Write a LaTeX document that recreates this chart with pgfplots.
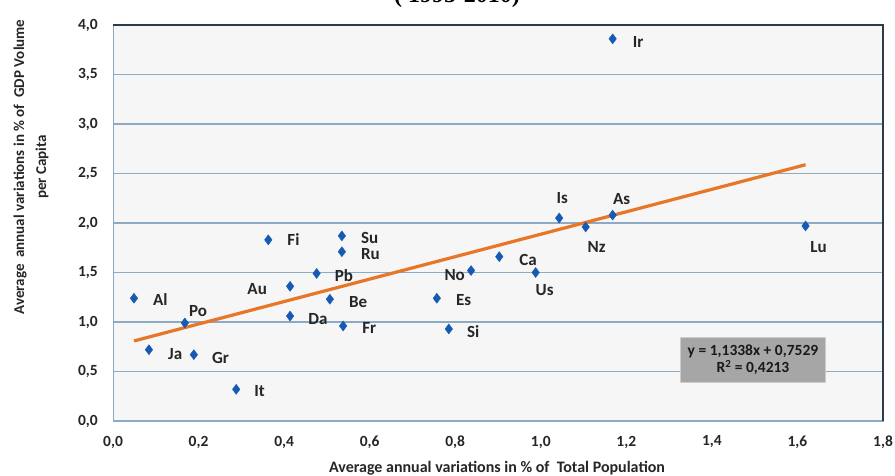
\documentclass[border=0pt]{standalone}
\usepackage{pgfplots}
\pgfplotsset{compat=1.18}
\usepackage{fontspec}
\setmainfont{Carlito}
\newfontfamily\titlefont{Liberation Serif}
\definecolor{mblue}{RGB}{22,90,180}
\definecolor{torange}{RGB}{232,118,40}
\definecolor{gridc}{RGB}{140,170,195}
\definecolor{framed}{RGB}{45,60,75}
\definecolor{bgc}{RGB}{246,246,246}
\definecolor{boxc}{RGB}{166,166,166}
\begin{document}
\begin{tikzpicture}[x=1pt,y=1pt]
\begin{axis}[
  at={(113pt,54pt)}, anchor=south west,
  width=770pt, height=396pt, scale only axis,
  xmin=0, xmax=1.8, ymin=0, ymax=4,
  xtick={0,0.2,0.4,0.6,0.8,1.0,1.2,1.4,1.6,1.8},
  ytick={0,0.5,1.0,1.5,2.0,2.5,3.0,3.5,4.0},
  major tick length=0pt,
  ymajorgrids,
  grid style={gridc, line width=1.2pt},
  axis line style={gridc, line width=1pt},
  axis background/.style={fill=bgc},
  /pgf/number format/.cd, fixed, fixed zerofill, precision=1, use comma, assume math mode=true,
  /pgfplots/.cd,
  tick label style={font=\bfseries\fontsize{15.5}{15.5}\selectfont, text=black!85, inner sep=0pt},
  xticklabel style={anchor=center, yshift=-21pt},
  yticklabel style={anchor=east, xshift=-15pt},
  clip=false,
]
\draw[framed, line width=2.2pt] (rel axis cs:0,1) -- (rel axis cs:1,1) -- (rel axis cs:1,0);
\addplot[only marks, mark=diamond*, mark size=5pt, color=mblue] coordinates {
  (1.168,3.86) (1.043,2.05) (1.105,1.96) (1.168,2.08) (1.619,1.97)
  (0.363,1.83) (0.535,1.87) (0.535,1.71) (0.476,1.49) (0.414,1.36)
  (0.049,1.24) (0.507,1.23) (0.168,0.99) (0.414,1.06) (0.538,0.96)
  (0.084,0.72) (0.189,0.67) (0.288,0.32) (0.837,1.52) (0.903,1.66)
  (0.988,1.50) (0.757,1.24) (0.785,0.93)
};
\addplot[torange, line width=3.2pt] coordinates {(0.049,0.8085) (1.619,2.5885)};
\begin{scope}[every node/.style={font=\bfseries\fontsize{17}{17}\selectfont, text=black!85, inner sep=0pt}]
\node[anchor=west] at (axis cs:1.168,3.86) [xshift=20pt,yshift=-3pt] {Ir};
\node at (axis cs:1.043,2.05) [xshift=3pt,yshift=20pt] {Is};
\node at (axis cs:1.168,2.08) [xshift=9pt,yshift=16pt] {As};
\node at (axis cs:1.105,1.96) [xshift=11pt,yshift=-20pt] {Nz};
\node at (axis cs:1.619,1.97) [xshift=13pt,yshift=-21pt] {Lu};
\node[anchor=west] at (axis cs:0.363,1.83) [xshift=19pt] {Fi};
\node[anchor=west] at (axis cs:0.535,1.87) [xshift=19pt,yshift=-2pt] {Su};
\node[anchor=west] at (axis cs:0.535,1.71) [xshift=19pt,yshift=-2pt] {Ru};
\node[anchor=west] at (axis cs:0.476,1.49) [xshift=18pt,yshift=-2pt] {Pb};
\node[anchor=east] at (axis cs:0.414,1.36) [xshift=-23pt,yshift=-3pt] {Au};
\node[anchor=west] at (axis cs:0.049,1.24) [xshift=19pt,yshift=-1pt] {Al};
\node[anchor=west] at (axis cs:0.507,1.23) [xshift=19pt,yshift=-3pt] {Be};
\node[anchor=west] at (axis cs:0.168,0.99) [xshift=4pt,yshift=12pt] {Po};
\node[anchor=west] at (axis cs:0.414,1.06) [xshift=18pt,yshift=-3pt] {Da};
\node[anchor=west] at (axis cs:0.538,0.96) [xshift=19pt,yshift=-2pt] {Fr};
\node[anchor=west] at (axis cs:0.084,0.72) [xshift=19pt,yshift=-4pt] {Ja};
\node[anchor=west] at (axis cs:0.189,0.67) [xshift=18pt,yshift=-3pt] {Gr};
\node[anchor=west] at (axis cs:0.288,0.32) [xshift=18pt,yshift=-2pt] {It};
\node[anchor=east] at (axis cs:0.837,1.52) [xshift=-6pt,yshift=-5pt] {No};
\node[anchor=west] at (axis cs:0.903,1.66) [xshift=20pt,yshift=-3pt] {Ca};
\node at (axis cs:0.988,1.50) [xshift=9pt,yshift=-18pt] {Us};
\node[anchor=west] at (axis cs:0.757,1.24) [xshift=19pt,yshift=-2pt] {Es};
\node[anchor=west] at (axis cs:0.785,0.93) [xshift=18pt,yshift=-3pt] {Si};
\end{scope}
\node[fill=boxc, draw=black!20, line width=1pt, minimum width=145pt, minimum height=45pt, inner sep=2pt, align=center,
  font=\bfseries\fontsize{15.5}{17}\selectfont, text=black!90] at (axis cs:1.496,0.616)
  {y = 1,1338x + 0,7529\\R\textsuperscript{2} = 0,4213};
\end{axis}
\node[rotate=90, align=center, font=\bfseries\fontsize{15}{22}\selectfont, text=black!85] at (31,308)
  {Average \ annual variations in \% of \ GDP Volume\\per Capita};
\node[font=\bfseries\fontsize{16}{16}\selectfont, text=black!85] at (497,7)
  {Average annual variations in \% of \ Total Population};
\node[anchor=base, font=\titlefont\bfseries\fontsize{24}{24}\selectfont] at (457,472) {( 1995-2010)};
\pgfresetboundingbox
\useasboundingbox (0,0) rectangle (895,475);
\end{tikzpicture}
\end{document}
